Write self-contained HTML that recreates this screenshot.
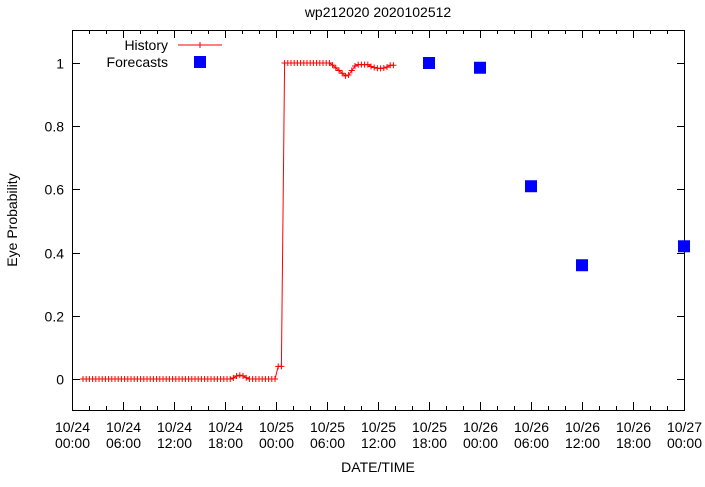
<!DOCTYPE html>
<html><head><meta charset="utf-8"><style>
html,body{margin:0;padding:0;background:#fff}
svg text{font-family:"Liberation Sans",sans-serif;font-size:14px;fill:#000}
</style></head><body>
<svg id="s" width="705" height="482" xmlns="http://www.w3.org/2000/svg">
<rect x="0" y="0" width="705" height="482" fill="#fff"/>
<text x="378" y="17" text-anchor="middle">wp212020 2020102512</text>
<g id="ax" stroke="#000" stroke-width="1" fill="none"></g>
<rect x="72.5" y="30.5" width="612" height="380" fill="none" stroke="#000"/>
<g id="lbl"></g>
<text x="378" y="472" text-anchor="middle">DATE/TIME</text>
<text transform="translate(17,220) rotate(-90)" text-anchor="middle">Eye Probability</text>
<text x="168" y="50" text-anchor="end">History</text>
<line x1="178" y1="45" x2="222" y2="45" stroke="#f00"/>
<text x="168" y="67" text-anchor="end">Forecasts</text>
<g id="hist"></g>
<g id="fc" fill="#00f"></g>
</svg>
<script>
var ns="http://www.w3.org/2000/svg";
function el(p,t,a,txt){var e=document.createElementNS(ns,t);for(var k in a)e.setAttribute(k,a[k]);if(txt!=null)e.textContent=txt;document.getElementById(p).appendChild(e);return e;}
function X(h){return 72+h*612/72;}
function Y(v){return 379-v*316;}
// y ticks
for(var i=0;i<=5;i++){var v=i*0.2,y=Math.round(Y(v))+0.5;
el("ax","line",{x1:72,y1:y,x2:80,y2:y});el("ax","line",{x1:685,y1:y,x2:677,y2:y});
el("lbl","text",{x:64,y:y+5,"text-anchor":"end"},i==0?"0":i==5?"1":v.toFixed(1));}
// x ticks
var days=["10/24","10/25","10/26","10/27"],hrs=["00:00","06:00","12:00","18:00"];
for(var h=0;h<=72;h+=2){var x=Math.round(X(h))+0.5,L=(h%6==0)?8:4;
el("ax","line",{x1:x,y1:410,x2:x,y2:410-L});el("ax","line",{x1:x,y1:30,x2:x,y2:30+L});
if(h%6==0){var t=el("lbl","text",{x:x,y:432,"text-anchor":"middle"});
var a=document.createElementNS(ns,"tspan");a.setAttribute("x",x);a.textContent=days[Math.floor(h/24)];t.appendChild(a);
var b=document.createElementNS(ns,"tspan");b.setAttribute("x",x);b.setAttribute("dy","16");b.textContent=hrs[(h%24)/6];t.appendChild(b);}}
// history
var pts=[];
for(var px=83;px<=395;px+=3.2){var v;
if(px<278)v=(px>232&&px<248)?0.012*Math.sin((px-232)/16*Math.PI):0;
else if(px<283)v=0.04;
else if(px<330)v=1;
else if(px<347)v=1-(px-330)/17*0.045;
else if(px<356)v=0.955+(px-347)/9*0.04;
else if(px<370)v=0.995;
else if(px<390)v=0.99-0.007*Math.sin((px-370)/20*Math.PI);
else v=0.993;
pts.push([px,Y(v)]);}
var d="M"+pts.map(function(p){return p[0].toFixed(1)+","+p[1].toFixed(1)}).join("L");
el("hist","path",{d:d,fill:"none",stroke:"#f00","stroke-width":1});
pts.forEach(function(p){el("hist","path",{d:"M"+(p[0]-3)+","+p[1]+"h6M"+p[0]+","+(p[1]-3)+"v6",stroke:"#f00","stroke-width":1});});
el("hist","path",{d:"M197,45h6M200,42v6",stroke:"#f00"});
// forecasts
[[200,62,null],[X(42),Y(1.0)],[X(48),Y(0.985)],[X(54),Y(0.61)],[X(60),Y(0.36)],[X(72),Y(0.42)]].forEach(function(p,i){
var yy=i==0?62:p[1];el("fc","rect",{x:p[0]-6,y:yy-6,width:12,height:12});});
</script>
</body></html>
